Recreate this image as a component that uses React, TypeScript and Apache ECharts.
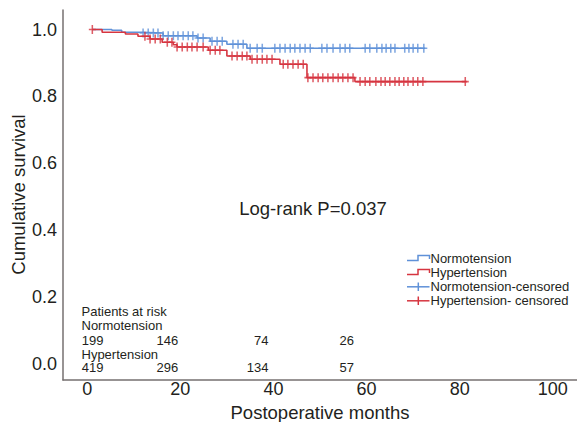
import React, { useEffect, useRef } from "react";
import * as echarts from "echarts";

// Kaplan-Meier step data (time in months, cumulative survival)
const normoTimes = [1.1, 5.3, 7.4, 11.8, 16.3, 23.6, 26.4, 30.0, 34.3, 72.6];
const normoSurv = [1.0, 0.9976, 0.9916, 0.9895, 0.9815, 0.9746, 0.9648, 0.9558, 0.9439, 0.9439];

const hyperTimes = [1.1, 3.2, 8.2, 10.9, 13.5, 16.1, 18.5, 19.3, 26.0, 30.0, 35.0, 41.4, 47.2, 57.5, 81.5];
const hyperSurv = [1.0, 0.9916, 0.9866, 0.9797, 0.9716, 0.9618, 0.9546, 0.9478, 0.9379, 0.9209, 0.911, 0.8961, 0.856, 0.8442, 0.8442];

// Censoring times
const normoCensored = [
  12.0, 13.1, 14.2, 15.2, 16.3, 17.4, 18.5, 19.5, 20.6, 21.7, 22.7, 23.8, 24.9, 26.8, 27.9, 29.0,
  31.3, 32.4, 33.5, 35.0, 36.5, 37.6, 40.3, 41.4, 42.5, 43.6, 44.6, 45.7, 46.8, 47.9, 50.4, 51.5,
  52.8, 54.3, 55.4, 56.4, 59.7, 60.7, 62.2, 63.3, 64.2, 65.2, 66.1, 68.2, 69.1, 70.0, 71.0, 72.3,
];
const hyperCensored = [
  1.1, 12.4, 13.5, 14.6, 15.7, 17.2, 18.2, 19.3, 20.4, 21.5, 22.5, 23.6, 24.9, 26.4, 27.5, 28.5,
  31.1, 32.2, 33.3, 34.3, 35.4, 36.5, 37.6, 38.6, 39.7, 42.1, 43.1, 44.2, 45.3, 46.4, 47.4, 48.5,
  49.6, 50.6, 51.7, 52.8, 53.9, 54.9, 56.0, 57.1, 58.6, 59.7, 60.7, 62.0, 63.1, 64.0, 65.0, 66.1,
  67.0, 68.0, 68.9, 70.0, 71.0, 72.1, 81.2,
];

// Numbers at risk
const riskGroups = ["Normotension", "Hypertension"];
const atRiskNormo = [199, 146, 74, 26];
const atRiskHyper = [419, 296, 134, 57];

const xTicks = [0, 20, 40, 60, 80, 100];
const yTicks = [0, 0.2, 0.4, 0.6, 0.8, 1.0];

const legendNames = ["Normotension", "Hypertension", "Normotension-censored", "Hypertension- censored"];
const pText = "Log-rank P=0.037";
const yTitle = "Cumulative survival";
const xTitle = "Postoperative months";

const BLUE = "#5f91d8";
const RED = "#d63540";
const TXT = "#231f20";
const FONT = "'Liberation Sans', Arial, Helvetica, sans-serif";

function survAt(times: number[], surv: number[], t: number) {
  let s = surv[0];
  for (let i = 0; i < times.length; i++) {
    if (times[i] <= t + 1e-9) s = surv[i];
  }
  return s;
}

const PLUS = "path://M3.9,0h2.2v10h-2.2z M0,4.1h10v1.8h-10z";

export default function App() {
  const ref = useRef<HTMLDivElement>(null);
  useEffect(() => {
    if (!ref.current) return;
    const chart = echarts.init(ref.current, undefined, { renderer: "svg" });

    const riskX = [103.4, 178.3, 268.5, 354];
    const graphics: any[] = [];
    const smallText = (text: string, x: number, y: number, align = "left", size = 13) => ({
      type: "text",
      x,
      y,
      style: { text, fill: TXT, fontSize: size, fontFamily: FONT, align, verticalAlign: "middle" },
    });
    graphics.push(smallText("Patients at risk", 81.5, 311.5));
    graphics.push(smallText(riskGroups[0], 81.5, 325.5));
    atRiskNormo.forEach((v, i) => graphics.push(smallText(String(v), riskX[i], 340, "right")));
    graphics.push(smallText(riskGroups[1], 81.5, 354));
    atRiskHyper.forEach((v, i) => graphics.push(smallText(String(v), riskX[i], 367.5, "right")));

    graphics.push({
      type: "text",
      x: 313,
      y: 208.5,
      style: { text: pText, fill: TXT, fontSize: 18.5, fontFamily: FONT, align: "center", verticalAlign: "middle" },
    });

    graphics.push({
      type: "text",
      x: 18,
      y: 194.5,
      rotation: Math.PI / 2,
      style: { text: yTitle, fill: TXT, fontSize: 18.5, fontFamily: FONT, align: "center", verticalAlign: "middle" },
    });

    // legend
    const lx0 = 407, lx1 = 418, lx2 = 429.5;
    const rowsY = [258, 272, 286, 300];
    const colors = [BLUE, RED, BLUE, RED];
    rowsY.forEach((y, i) => {
      const c = colors[i];
      if (i < 2) {
        graphics.push({
          type: "polyline",
          shape: { points: [[lx0, y + 2.5], [lx1, y + 2.5], [lx1, y - 2.5], [lx2, y - 2.5], [lx2, y + 1]] },
          style: { stroke: c, lineWidth: 1.5, fill: null },
        });
      } else {
        graphics.push({ type: "line", shape: { x1: lx0, y1: y + 0.8, x2: lx2, y2: y + 0.8 }, style: { stroke: c, lineWidth: 1.5 } });
        graphics.push({ type: "line", shape: { x1: 418.3, y1: y - 3.5, x2: 418.3, y2: y + 5 }, style: { stroke: c, lineWidth: 1.5 } });
      }
      graphics.push(smallText(legendNames[i], 430.5, y, "left", 13));
    });

    const option: any = {
      animation: false,
      textStyle: { fontFamily: FONT },
      grid: { left: 63, right: 0, top: 10, bottom: 42, containLabel: false, outerBoundsMode: "none" },
      xAxis: {
        type: "value",
        min: -5.2,
        max: 105.2,
        name: xTitle,
        nameLocation: "middle",
        nameGap: 14,
        nameTextStyle: { color: TXT, fontSize: 18.5, fontFamily: FONT, verticalAlign: "top" },
        axisLine: { show: true, onZero: false, lineStyle: { color: "#767070", width: 1.5 } },
        axisTick: { show: false },
        splitLine: { show: false },
        axisLabel: { customValues: xTicks, color: TXT, fontSize: 18, fontFamily: FONT, margin: 0 },
      },
      yAxis: {
        type: "value",
        min: -0.0478,
        max: 1.0583,
        axisLine: { show: true, onZero: false, lineStyle: { color: "#767070", width: 1.5 } },
        axisTick: { show: false },
        splitLine: { show: false },
        axisLabel: {
          customValues: yTicks,
          formatter: (v: number) => v.toFixed(1),
          color: TXT,
          fontSize: 18,
          fontFamily: FONT,
          margin: 6,
        },
      },
      series: [
        {
          name: "Normotension",
          type: "line",
          step: "end",
          showSymbol: false,
          data: normoTimes.map((t, i) => [t, normoSurv[i]]),
          lineStyle: { color: BLUE, width: 1.6 },
          z: 2,
        },
        {
          name: "Normotension-censored",
          type: "scatter",
          symbol: PLUS,
          symbolSize: [7, 9],
          data: normoCensored.map((t) => [t, survAt(normoTimes, normoSurv, t)]),
          itemStyle: { color: BLUE },
          z: 3,
        },
        {
          name: "Hypertension",
          type: "line",
          step: "end",
          showSymbol: false,
          data: hyperTimes.map((t, i) => [t, hyperSurv[i]]),
          lineStyle: { color: RED, width: 1.6 },
          z: 4,
        },
        {
          name: "Hypertension- censored",
          type: "scatter",
          symbol: PLUS,
          symbolSize: [7, 9],
          data: hyperCensored.map((t) => [t, survAt(hyperTimes, hyperSurv, t)]),
          itemStyle: { color: RED },
          z: 5,
        },
      ],
      graphic: graphics,
    };
    chart.setOption(option);
    return () => chart.dispose();
  }, []);
  return <div ref={ref} style={{ width: 577, height: 422, position: "absolute", left: 0, top: 0 }} />;
}
